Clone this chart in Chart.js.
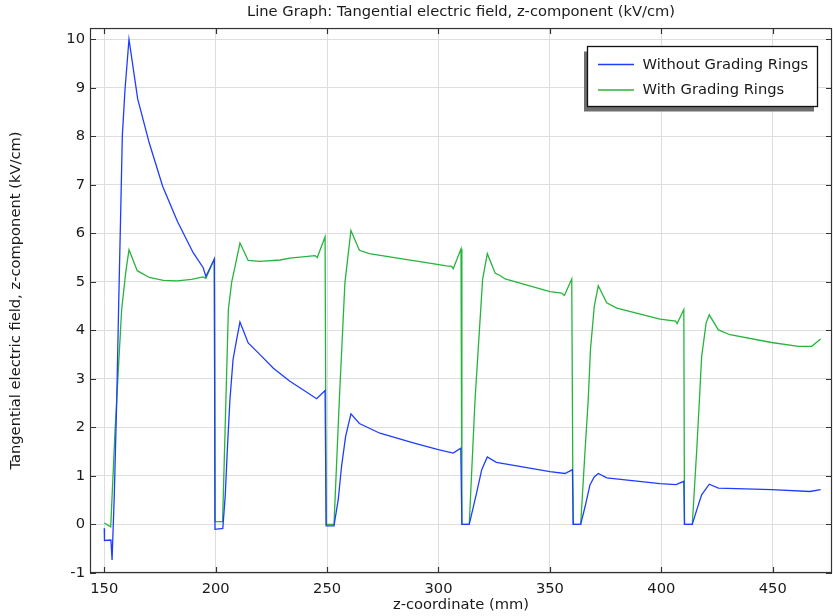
<!DOCTYPE html>
<html>
<head>
<meta charset="utf-8">
<title>Line Graph</title>
<script src="https://cdn.jsdelivr.net/npm/chart.js@4.4.0/dist/chart.umd.min.js"></script>
<style>
  html, body { margin: 0; padding: 0; background: #fff; }
  #wrap { width: 833px; height: 616px; }
</style>
</head>
<body>
<div id="wrap"><canvas id="chart" width="833" height="616"></canvas></div>
<script>
'use strict';

var chartTitle = 'Line Graph: Tangential electric field, z-component (kV/cm)';
var xTitle = 'z-coordinate (mm)';
var yTitle = 'Tangential electric field, z-component (kV/cm)';
var seriesLabels = ['Without Grading Rings', 'With Grading Rings'];
var seriesColors = ['#1f3dff', '#27b43d'];

// Without grading rings
var zWithout = [150.0, 150.1, 153.0, 153.5, 154.5, 155.6, 156.5, 157.5, 158.1, 159.3, 161.1,
  165.0, 170.2, 176.2, 182.8, 189.9, 194.4, 195.6, 199.4,
  199.7, 203.2, 204.3, 205.3, 206.4, 207.8, 209.4, 210.9, 214.6, 219.9, 225.9, 233.3, 239.0, 245.3, 249.1,
  249.6, 253.1, 255.0, 256.5, 258.3, 260.7, 264.5, 273.7, 288.7, 299.9, 306.6, 310.0,
  310.5, 313.8, 317.1, 319.4, 321.9, 326.0, 350.0, 356.8, 360.1,
  360.5, 363.8, 365.8, 368.0, 369.9, 371.7, 375.5, 399.4, 406.6, 410.1,
  410.4, 413.9, 415.9, 418.1, 421.5, 425.6, 449.5, 466.7, 471.5];
var eWithout = [-0.08, -0.33, -0.32, -0.73, 0.6, 2.57, 4.6, 6.69, 8.0, 8.96, 10.0,
  8.77, 7.86, 6.97, 6.25, 5.6, 5.29, 5.11, 5.47,
  -0.1, -0.08, 0.6, 1.6, 2.57, 3.4, 3.81, 4.17, 3.74, 3.5, 3.22, 2.95, 2.78, 2.59, 2.76,
  -0.03, -0.03, 0.51, 1.2, 1.81, 2.28, 2.08, 1.88, 1.68, 1.54, 1.47, 1.57,
  0.0, 0.0, 0.65, 1.13, 1.39, 1.28, 1.09, 1.05, 1.13,
  0.0, 0.0, 0.37, 0.82, 0.98, 1.05, 0.96, 0.84, 0.82, 0.89,
  0.0, 0.0, 0.3, 0.61, 0.83, 0.75, 0.72, 0.68, 0.72];

// With grading rings
var zWith = [150.0, 152.9, 154.8, 155.6, 157.8, 159.7, 161.1, 164.8, 170.2, 176.5, 182.8, 189.2, 194.4, 195.6, 199.4,
  199.7, 203.1, 204.2, 205.7, 207.2, 208.7, 210.9, 214.6, 219.9, 228.9, 233.3, 244.6, 245.6, 249.1,
  249.6, 253.1, 255.5, 258.0, 260.7, 264.5, 268.9, 303.7, 305.9, 306.6, 310.1,
  310.5, 313.8, 316.4, 319.8, 321.9, 325.4, 327.6, 329.9, 350.0, 355.3, 356.5, 359.8,
  360.4, 363.8, 365.8, 367.2, 368.2, 369.9, 371.7, 375.5, 380.0, 399.4, 406.4, 407.1, 410.1,
  410.4, 413.9, 415.9, 417.1, 418.1, 420.1, 421.5, 425.6, 430.8, 449.5, 461.5, 467.5, 471.5];
var eWith = [0.03, -0.05, 1.9, 2.57, 4.43, 5.22, 5.66, 5.23, 5.09, 5.03, 5.02, 5.05, 5.1, 5.07, 5.47,
  0.06, 0.06, 1.9, 4.43, 5.0, 5.32, 5.8, 5.44, 5.42, 5.45, 5.49, 5.54, 5.5, 5.93,
  0.0, 0.0, 2.57, 4.98, 6.06, 5.65, 5.58, 5.33, 5.32, 5.27, 5.68,
  0.0, 0.0, 2.57, 5.05, 5.58, 5.18, 5.13, 5.06, 4.8, 4.77, 4.72, 5.06,
  0.0, 0.0, 1.54, 2.57, 3.6, 4.49, 4.92, 4.57, 4.46, 4.23, 4.19, 4.14, 4.43,
  0.0, 0.0, 1.54, 2.57, 3.46, 4.15, 4.32, 4.01, 3.91, 3.75, 3.67, 3.67, 3.82];

var xTicks = [150, 200, 250, 300, 350, 400, 450];
var yTicks = [-1, 0, 1, 2, 3, 4, 5, 6, 7, 8, 9, 10];

var FONT = 'DejaVu Sans';
var FONT_SIZE = 14.7;
var INK = '#1a1a1a';

function toPoints(zs, es) {
  return zs.map(function(z, i) { return { x: z, y: es[i] }; });
}

function setTicks(values) {
  return function(scale) {
    scale.ticks = values.map(function(v) { return { value: v }; });
  };
}

// ---- Frame with inward tick marks on all four sides ----
var frameTicks = {
  id: 'frameTicks',
  afterDatasetsDraw: function(chart) {
    var ctx = chart.ctx;
    var a = chart.chartArea;
    var xs = chart.scales.x, ys = chart.scales.y;
    var len = 6;
    ctx.save();
    ctx.strokeStyle = '#333';
    ctx.lineWidth = 1.2;
    ctx.beginPath();
    xTicks.forEach(function(v) {
      var px = Math.round(xs.getPixelForValue(v)) + 0.5;
      ctx.moveTo(px, a.bottom); ctx.lineTo(px, a.bottom - len);
      ctx.moveTo(px, a.top); ctx.lineTo(px, a.top + len);
    });
    yTicks.forEach(function(v) {
      var py = Math.round(ys.getPixelForValue(v)) + 0.5;
      ctx.moveTo(a.left, py); ctx.lineTo(a.left + len, py);
      ctx.moveTo(a.right, py); ctx.lineTo(a.right - len, py);
    });
    ctx.stroke();
    ctx.strokeRect(a.left + 0.5, a.top + 0.5, a.right - a.left - 1, a.bottom - a.top - 1);
    ctx.restore();
  }
};

// ---- Boxed legend with drop shadow ----
var boxLegend = {
  id: 'boxLegend',
  afterDraw: function(chart) {
    var ctx = chart.ctx;
    var bx = 587.5, by = 46.5, bw = 230, bh = 60;
    ctx.save();
    ctx.fillStyle = '#6e6e6e';
    ctx.fillRect(bx - 3.5, by + 5, bw, bh);
    ctx.fillStyle = '#fff';
    ctx.fillRect(bx, by, bw, bh);
    ctx.strokeStyle = '#111';
    ctx.lineWidth = 1.3;
    ctx.strokeRect(bx, by, bw, bh);
    ctx.font = FONT_SIZE + 'px "' + FONT + '"';
    ctx.textBaseline = 'middle';
    chart.data.datasets.forEach(function(ds, i) {
      var y = 64.5 + i * 25.5;
      ctx.strokeStyle = ds.borderColor;
      ctx.lineWidth = 1.3;
      ctx.beginPath();
      ctx.moveTo(598, y); ctx.lineTo(634, y);
      ctx.stroke();
      ctx.fillStyle = INK;
      ctx.fillText(ds.label, 642.5, y + 0.5);
    });
    ctx.restore();
  }
};

var canvas = document.getElementById('chart');

new Chart(canvas, {
  type: 'line',
  data: {
    datasets: [
      {
        label: seriesLabels[0],
        data: toPoints(zWithout, eWithout),
        borderColor: seriesColors[0],
        borderWidth: 1.3,
        pointRadius: 0,
        tension: 0,
      },
      {
        label: seriesLabels[1],
        data: toPoints(zWith, eWith),
        borderColor: seriesColors[1],
        borderWidth: 1.3,
        pointRadius: 0,
        tension: 0,
      },
    ],
  },
  options: {
    responsive: false,
    animation: false,
    layout: { padding: { left: 0, right: 1, top: 0, bottom: 0 } },
    plugins: {
      legend: { display: false },
      tooltip: { enabled: false },
      title: {
        display: true,
        fullSize: false,
        text: chartTitle,
        color: INK,
        font: { family: FONT, size: FONT_SIZE, weight: 'normal', lineHeight: 1.2 },
        padding: { top: 3.5, bottom: 6.9 },
      },
    },
    scales: {
      x: {
        type: 'linear',
        min: 143.6,
        max: 476.6,
        afterBuildTicks: setTicks(xTicks),
        afterFit: function(scale) { scale.height = 43; },
        grid: { color: '#dedede', lineWidth: 1, drawTicks: false },
        border: { display: false },
        ticks: { color: INK, padding: 7, maxRotation: 0, font: { family: FONT, size: FONT_SIZE } },
        title: {
          display: true,
          text: xTitle,
          color: INK,
          font: { family: FONT, size: FONT_SIZE, lineHeight: 1.2 },
          padding: { top: 0, bottom: 2 },
        },
      },
      y: {
        type: 'linear',
        min: -1,
        max: 10.23,
        afterBuildTicks: setTicks(yTicks),
        afterFit: function(scale) { scale.width = 90; },
        grid: { color: '#dedede', lineWidth: 1, drawTicks: false },
        border: { display: false },
        ticks: { color: INK, padding: 5, font: { family: FONT, size: FONT_SIZE } },
        title: {
          display: true,
          text: yTitle,
          color: INK,
          font: { family: FONT, size: FONT_SIZE, lineHeight: 1.2 },
          padding: { top: 7, bottom: 0 },
        },
      },
    },
  },
  plugins: [frameTicks, boxLegend],
});
</script>
</body>
</html>
